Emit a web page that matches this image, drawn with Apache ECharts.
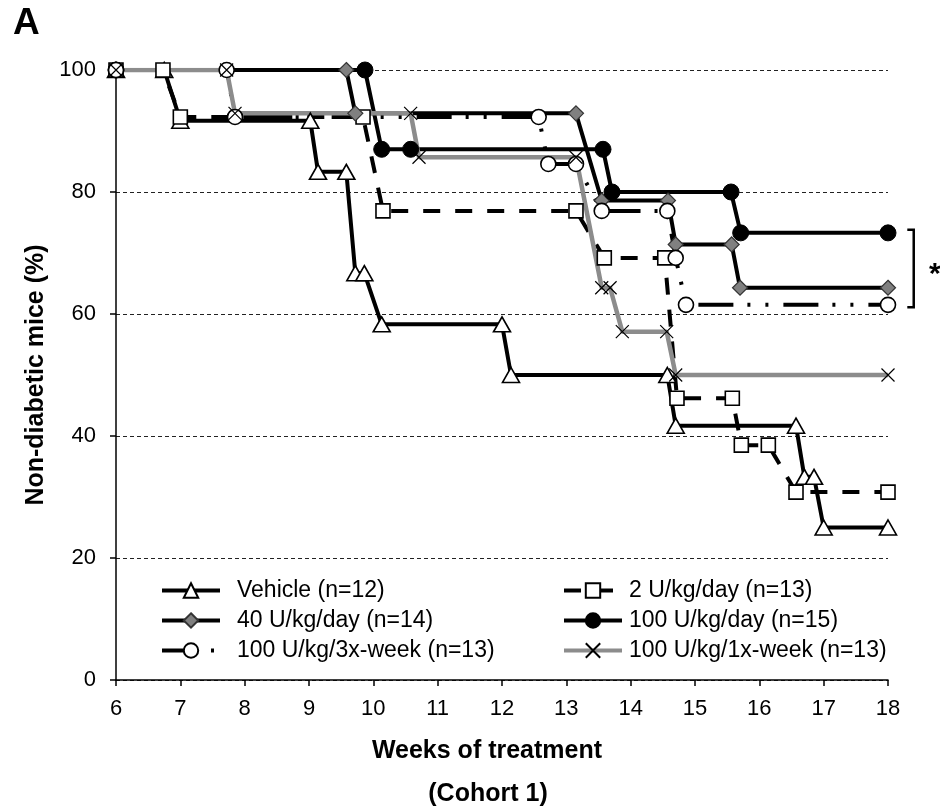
<!DOCTYPE html>
<html>
<head>
<meta charset="utf-8">
<script src="https://cdn.jsdelivr.net/npm/echarts@6/dist/echarts.min.js"></script>
<style>html,body{margin:0;padding:0;background:#fff;}#c{width:940px;height:807px;}</style>
</head>
<body>
<div id="c"></div>
<script>
// ---- data (weeks, % non-diabetic) ----
const xTicks = [6, 7, 8, 9, 10, 11, 12, 13, 14, 15, 16, 17, 18];
const yTicks = [0, 20, 40, 60, 80, 100];

const vehicleWeeks = [6, 6.75, 7.0, 9.02, 9.14, 9.58, 9.72, 9.86, 10.13, 12.0, 12.14, 14.57, 14.7, 16.57, 16.7, 16.85, 17.0, 18];
const vehicleVals  = [100, 100, 91.7, 91.7, 83.3, 83.3, 66.7, 66.7, 58.3, 58.3, 50, 50, 41.7, 41.7, 33.3, 33.3, 25, 25];

const u2Weeks = [6, 6.73, 7.0, 9.84, 10.15, 13.15, 13.59, 14.53, 14.72, 15.58, 15.72, 16.14, 16.57, 18];
const u2Vals  = [100, 100, 92.3, 92.3, 76.9, 76.9, 69.2, 69.2, 46.2, 46.2, 38.5, 38.5, 30.8, 30.8];

const u40Weeks = [6, 9.58, 9.72, 13.15, 13.55, 14.58, 14.7, 15.57, 15.7, 18];
const u40Vals  = [100, 100, 92.9, 92.9, 78.6, 78.6, 71.4, 71.4, 64.3, 64.3];

const u100Weeks = [6, 9.87, 10.13, 10.58, 13.57, 13.71, 15.56, 15.71, 18];
const u100Vals  = [100, 100, 87, 87, 87, 80, 80, 73.3, 73.3];

const w3Weeks = [6, 7.72, 7.85, 12.57, 12.72, 13.15, 13.55, 14.57, 14.7, 14.86, 18];
const w3Vals  = [100, 100, 92.3, 92.3, 84.6, 84.6, 76.9, 76.9, 69.2, 61.5, 61.5];

const w1Weeks = [6, 7.72, 7.85, 10.58, 10.71, 13.15, 13.55, 13.68, 13.87, 14.56, 14.7, 18];
const w1Vals  = [100, 100, 92.9, 92.9, 85.7, 85.7, 64.3, 64.3, 57.1, 57.1, 50, 50];

const seriesNames = ['Vehicle (n=12)', '2 U/kg/day (n=13)', '40 U/kg/day (n=14)', '100 U/kg/day (n=15)', '100 U/kg/3x-week (n=13)', '100 U/kg/1x-week (n=13)'];

// ---- build ----
const FONT = 'Liberation Sans, Arial, sans-serif';
function pairs(xs, ys) { return xs.map((x, i) => [x, ys[i]]); }

const chart = echarts.init(document.getElementById('c'), null, {renderer: 'canvas'});
const blackBorder = {borderColor: '#000', borderWidth: 1.6};

const series = [
  {name: seriesNames[0], data: pairs(vehicleWeeks, vehicleVals), symbol: 'triangle', symbolSize: [17, 15],
   lineStyle: {color: '#000', width: 4}, itemStyle: Object.assign({color: '#fff'}, blackBorder)},
  {name: seriesNames[1], data: pairs(u2Weeks, u2Vals), symbol: 'rect', symbolSize: 14,
   lineStyle: {color: '#000', width: 4, type: [17, 15]}, itemStyle: Object.assign({color: '#fff'}, blackBorder)},
  {name: seriesNames[2], data: pairs(u40Weeks, u40Vals), symbol: 'diamond', symbolSize: 15,
   lineStyle: {color: '#000', width: 4}, itemStyle: {color: '#808080', borderColor: '#333', borderWidth: 1.2}},
  {name: seriesNames[3], data: pairs(u100Weeks, u100Vals), symbol: 'circle', symbolSize: 16,
   lineStyle: {color: '#000', width: 4}, itemStyle: {color: '#000', borderColor: '#000', borderWidth: 1}},
  {name: seriesNames[4], data: pairs(w3Weeks, w3Vals), symbol: 'circle', symbolSize: 15,
   lineStyle: {color: '#000', width: 4, type: [35, 14, 3, 15, 3, 15]}, itemStyle: Object.assign({color: '#fff'}, blackBorder)},
  {name: seriesNames[5], data: pairs(w1Weeks, w1Vals), symbol: 'path://M0,0L10,10M10,0L0,10', symbolSize: 13,
   lineStyle: {color: '#8c8c8c', width: 4.5}, itemStyle: {color: 'rgba(0,0,0,0)', borderColor: '#000', borderWidth: 1.2}}
].map(s => Object.assign({type: 'line', showAllSymbol: true, smooth: false, z: 2}, s));

const legendText = {fontSize: 23, color: '#000', fontFamily: FONT, lineHeight: 22};
const legendCommon = {orient: 'vertical', top: 579, itemWidth: 58, itemHeight: 18, itemGap: 7, padding: 0,
  lineStyle: {width: 4}};

chart.setOption({
  animation: false,
  backgroundColor: '#fff',
  grid: {left: 116, right: 52, top: 70, bottom: 127},
  xAxis: {
    type: 'value', min: xTicks[0], max: xTicks[xTicks.length - 1], interval: 1,
    axisLine: {lineStyle: {color: '#000', width: 1.5}},
    axisTick: {show: true, length: 6, lineStyle: {color: '#000', width: 1.5}},
    axisLabel: {color: '#000', fontSize: 22, fontFamily: FONT, margin: 18},
    splitLine: {show: false}
  },
  yAxis: {
    type: 'value', min: yTicks[0], max: yTicks[yTicks.length - 1], interval: 20,
    name: 'Non-diabetic mice (%)', nameLocation: 'middle', nameGap: 66,
    nameTextStyle: {color: '#000', fontSize: 25, fontWeight: 'bold', fontFamily: FONT},
    axisLine: {show: true, lineStyle: {color: '#000', width: 1.5}},
    axisTick: {show: true, length: 6, lineStyle: {color: '#000', width: 1.5}},
    axisLabel: {color: '#000', fontSize: 22, fontFamily: FONT, margin: 20},
    splitLine: {show: true, lineStyle: {color: '#222', width: 1, type: [4, 3]}}
  },
  legend: [
    Object.assign({data: [seriesNames[0], seriesNames[2], seriesNames[4]], left: 160,
      textStyle: Object.assign({padding: [0, 0, 0, 12]}, legendText)}, legendCommon),
    Object.assign({data: [seriesNames[1], seriesNames[3], seriesNames[5]], left: 562,
      textStyle: Object.assign({padding: [0, 0, 0, 2]}, legendText)}, legendCommon)
  ],
  series: series
});

const p1 = chart.convertToPixel({gridIndex: 0}, [18.3, 73.8]);
const p2 = chart.convertToPixel({gridIndex: 0}, [18.4, 61.1]);
chart.setOption({
  graphic: [
    {type: 'text', style: {text: 'A', x: 13, y: 24, font: 'bold 37px ' + FONT, fill: '#000', textVerticalAlign: 'middle', verticalAlign: 'middle'}},
    {type: 'text', style: {text: 'Weeks of treatment', x: 487, y: 751, font: 'bold 25px ' + FONT, fill: '#000', textAlign: 'center', align: 'center', textVerticalAlign: 'middle', verticalAlign: 'middle'}},
    {type: 'text', style: {text: '(Cohort 1)', x: 488, y: 794, font: 'bold 25px ' + FONT, fill: '#000', textAlign: 'center', align: 'center', textVerticalAlign: 'middle', verticalAlign: 'middle'}},
    {type: 'polyline', shape: {points: [[p1[0], p1[1]], [p2[0], p1[1]], [p2[0], p2[1]], [p1[0], p2[1]]]},
     style: {stroke: '#000', lineWidth: 2.5, fill: null}},
    {type: 'text', style: {text: '*', x: p2[0] + 21, y: (p1[1] + p2[1]) / 2 + 6, font: 'bold 30px ' + FONT, fill: '#000', textAlign: 'center', align: 'center', textVerticalAlign: 'middle', verticalAlign: 'middle'}}
  ]
});
</script>
</body>
</html>
